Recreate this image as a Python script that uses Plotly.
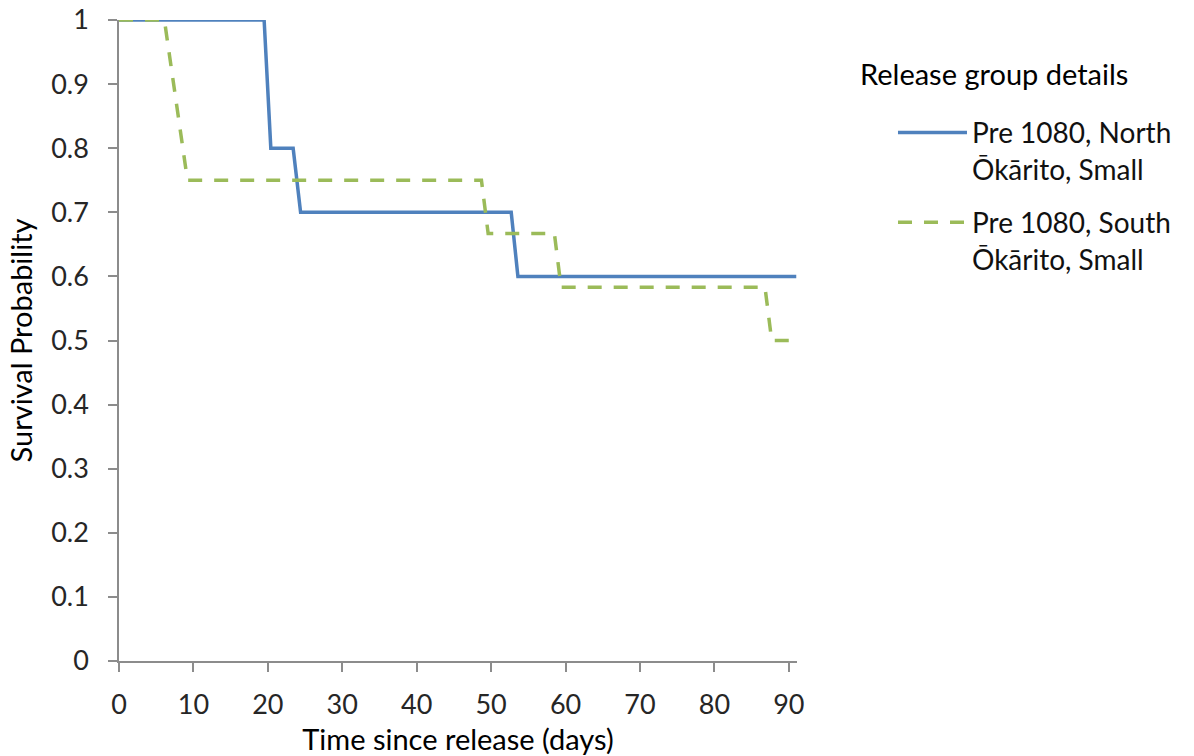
import plotly.graph_objects as go

# Kaplan-Meier style step data (days, survival probability)
north_days = [0, 19.5, 20.4, 23.4, 24.4, 52.7, 53.6, 91.0]
north_surv = [1.0, 1.0, 0.8, 0.8, 0.7, 0.7, 0.6, 0.6]

south_days = [0, 6.1, 9.2, 48.7, 49.6, 58.5, 59.4, 86.8, 87.7, 91.0]
south_surv = [1.0, 1.0, 0.75, 0.75, 0.667, 0.667, 0.583, 0.583, 0.5, 0.5]

north_name = "Pre 1080, North<br>Ōkārito, Small"
south_name = "Pre 1080, South<br>Ōkārito, Small"
legend_title = "Release group details"

x_ticks = [0, 10, 20, 30, 40, 50, 60, 70, 80, 90]
y_ticks = [0, 0.1, 0.2, 0.3, 0.4, 0.5, 0.6, 0.7, 0.8, 0.9, 1]
y_labels = ["0", "0.1", "0.2", "0.3", "0.4", "0.5", "0.6", "0.7", "0.8", "0.9", "1"]

FONT = "Lato"
AXIS_COLOR = "#8c8c8c"
TEXT = "#262626"

fig = go.Figure()
fig.add_trace(go.Scatter(
    x=north_days, y=north_surv, mode="lines", name=north_name, legendgroup="north",
    line=dict(color="#4f81bd", width=3.5),
))
fig.add_trace(go.Scatter(
    x=south_days, y=south_surv, mode="lines", name=south_name, legendgroup="south",
    line=dict(color="#9bbb59", width=3.5, dash="14px,12px"),
))

# legend heading
fig.add_annotation(
    text=legend_title, xref="paper", yref="paper", x=1.09, y=0.916,
    xanchor="left", yanchor="middle", showarrow=False,
    font=dict(family=FONT, size=29, color="black"),
)

fig.update_layout(
    width=1194, height=756,
    margin=dict(l=119, r=397, t=20, b=95, autoexpand=False),
    paper_bgcolor="white", plot_bgcolor="white",
    font=dict(family=FONT, size=27, color=TEXT),
    showlegend=True,
    legend=dict(
        x=1.087, xanchor="left", y=0.863, yanchor="top",
        font=dict(family=FONT, size=28, color="#111111"),
        itemwidth=69,
        indentation=37,
        valign="top",
        tracegroupgap=14,
        bgcolor="rgba(0,0,0,0)",
    ),
    xaxis=dict(
        range=[0, 91.1], tickvals=x_ticks,
        showgrid=False, zeroline=False,
        showline=True, linecolor=AXIS_COLOR, linewidth=1.5,
        ticks="outside", ticklen=9, tickcolor=AXIS_COLOR, tickwidth=1.5,
        ticklabelstandoff=10,
        tickfont=dict(family=FONT, size=27, color=TEXT),
        title=dict(text="Time since release (days)", font=dict(family=FONT, size=29, color="black")),
    ),
    yaxis=dict(
        range=[0, 1], tickvals=y_ticks, ticktext=y_labels,
        showgrid=False, zeroline=False,
        showline=True, linecolor=AXIS_COLOR, linewidth=1.5,
        ticks="outside", ticklen=9, tickcolor=AXIS_COLOR, tickwidth=1.5,
        ticklabelstandoff=14,
        automargin=True,
        tickfont=dict(family=FONT, size=27, color=TEXT),
        title=dict(text="Survival Probability", font=dict(family=FONT, size=29, color="black"), standoff=10),
    ),
)

fig.write_html("out.html")
